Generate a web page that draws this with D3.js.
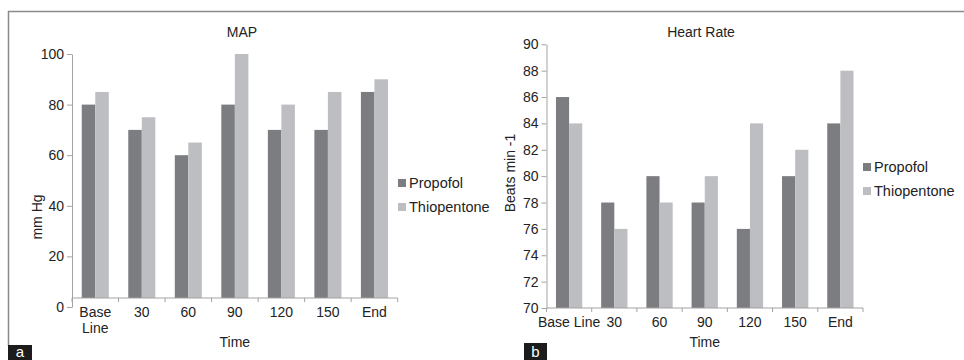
<!DOCTYPE html>
<html>
<head>
<meta charset="utf-8">
<script src="https://cdn.jsdelivr.net/npm/d3@7"></script>
<style>
  body { margin: 0; background: #fff; }
  text { font-family: "Liberation Sans", Arial, sans-serif; fill: #232323; }
  .axis path, .axis line { stroke: #a3a3a3; }
</style>
</head>
<body>
<svg id="fig" width="964" height="360"></svg>
<script>
// data
const timePoints = ['Base Line', '30', '60', '90', '120', '150', 'End'];
const seriesNames = ['Propofol', 'Thiopentone'];
const mapPropofol = [80, 70, 60, 80, 70, 70, 85];
const mapThiopentone = [85, 75, 65, 100, 80, 85, 90];
const hrPropofol = [86, 78, 80, 78, 76, 80, 84];
const hrThiopentone = [84, 76, 78, 80, 84, 82, 88];
const mapTicks = [0, 20, 40, 60, 80, 100];
const hrTicks = [70, 72, 74, 76, 78, 80, 82, 84, 86, 88, 90];

const colors = ['#7c7d81', '#bdbec2'];

class GroupedBars {
  constructor(_config, _data) {
    this.config = _config;
    this.data = _data;
    this.initVis();
  }

  initVis() {
    let vis = this;
    let c = vis.config;

    vis.g = d3.select('#fig').append('g');

    vis.xScale = d3.scaleBand()
      .domain(timePoints)
      .range([c.left, c.right])
      .padding(0);

    vis.xInner = d3.scaleBand()
      .domain(seriesNames)
      .range([0, vis.xScale.bandwidth()])
      .paddingInner(0)
      .paddingOuter(0.72);

    vis.yScale = d3.scaleLinear()
      .domain(c.yDomain)
      .range([c.yBottom, c.yTop]);

    // y axis
    vis.yAxis = d3.axisLeft(vis.yScale)
      .tickValues(c.yTicks)
      .tickSize(5)
      .tickSizeOuter(0)
      .tickPadding(3);
    vis.yAxisG = vis.g.append('g')
      .attr('class', 'axis y-axis')
      .attr('transform', `translate(${c.left},0)`)
      .call(vis.yAxis);
    vis.yAxisG.selectAll('text').style('font-size', '14px').attr('fill', '#232323');

    // bars
    vis.groups = vis.g.selectAll('.grp')
      .data(vis.data)
      .join('g')
      .attr('class', 'grp')
      .attr('transform', d => `translate(${vis.xScale(d.cat)},0)`);

    vis.groups.selectAll('rect')
      .data(d => seriesNames.map((s, i) => ({s: s, v: d.vals[i], i: i})))
      .join('rect')
      .attr('x', d => vis.xInner(d.s))
      .attr('width', vis.xInner.bandwidth())
      .attr('y', d => vis.yScale(d.v))
      .attr('height', d => c.baseline - vis.yScale(d.v))
      .attr('fill', d => colors[d.i]);

    // x axis (labels only, ticks between categories like excel)
    vis.xAxis = d3.axisBottom(vis.xScale).tickSize(0).tickPadding(9);
    vis.xAxisG = vis.g.append('g')
      .attr('class', 'axis x-axis')
      .attr('transform', `translate(0,${c.baseline})`)
      .call(vis.xAxis);
    vis.xAxisG.select('.domain').remove();
    vis.xAxisG.selectAll('text').style('font-size', '14px').attr('fill', '#232323');
    if (c.wrapLabels) {
      vis.xAxisG.selectAll('text').each(function(d) {
        let words = d.split(' ');
        if (words.length < 2) return;
        let t = d3.select(this).text(null);
        words.forEach((w, i) => {
          t.append('tspan').attr('x', 0).attr('dy', i === 0 ? '0.71em' : '1.15em').text(w);
        });
        t.attr('dy', null);
      });
    }
    vis.xAxisG.append('line')
      .attr('x1', c.left).attr('x2', c.right)
      .attr('stroke', '#a3a3a3');
    vis.xAxisG.selectAll('.sep')
      .data(d3.range(timePoints.length + 1))
      .join('line')
      .attr('class', 'sep')
      .attr('x1', i => c.left + i * vis.xScale.step())
      .attr('x2', i => c.left + i * vis.xScale.step())
      .attr('y1', 0).attr('y2', 4)
      .attr('stroke', '#a3a3a3');

    // titles
    vis.g.append('text')
      .attr('x', c.titleX).attr('y', 32).attr('dy', '0.35em')
      .attr('text-anchor', 'middle').style('font-size', '14px')
      .text(c.title);

    vis.g.append('text')
      .attr('x', (c.left + c.right) / 2).attr('y', 342).attr('dy', '0.35em')
      .attr('text-anchor', 'middle').style('font-size', '14px')
      .text('Time');

    vis.g.append('text')
      .attr('transform', `translate(${c.yLabelX},${c.yLabelY}) rotate(-90)`)
      .attr('dy', '0.35em')
      .attr('text-anchor', 'middle').style('font-size', '14px')
      .text(c.yLabel);

    // legend
    let leg = vis.g.selectAll('.leg')
      .data(seriesNames)
      .join('g')
      .attr('class', 'leg')
      .attr('transform', (d, i) => `translate(${c.legendX},${c.legendY + i * 24})`);
    leg.append('rect')
      .attr('x', 0).attr('y', -4).attr('width', 8).attr('height', 8)
      .attr('fill', (d, i) => colors[i]);
    leg.append('text')
      .attr('x', 11).attr('dy', '0.35em')
      .style('font-size', '14.5px')
      .text(d => d);
  }
}

const svg = d3.select('#fig');

// frame
svg.append('line').attr('x1', 8).attr('x2', 964).attr('y1', 11.5).attr('y2', 11.5)
  .attr('stroke', '#8a8a8a').attr('stroke-width', 1.5);
svg.append('line').attr('x1', 8.5).attr('x2', 8.5).attr('y1', 11).attr('y2', 346)
  .attr('stroke', '#8a8a8a').attr('stroke-width', 1.5);

new GroupedBars({
  left: 72, right: 397.7, yTop: 54, yBottom: 307, baseline: 298,
  yDomain: [0, 100], yTicks: mapTicks, wrapLabels: true,
  title: 'MAP', titleX: 242, yLabel: 'mm Hg', yLabelX: 37, yLabelY: 217,
  legendX: 398, legendY: 183
}, timePoints.map((t, i) => ({cat: t, vals: [mapPropofol[i], mapThiopentone[i]]})));

new GroupedBars({
  left: 546.5, right: 863, yTop: 44.3, yBottom: 308, baseline: 308,
  yDomain: [70, 90], yTicks: hrTicks, wrapLabels: false,
  title: 'Heart Rate', titleX: 701, yLabel: 'Beats min -1', yLabelX: 510, yLabelY: 173,
  legendX: 863, legendY: 167
}, timePoints.map((t, i) => ({cat: t, vals: [hrPropofol[i], hrThiopentone[i]]})));

// panel letters
[['a', 8, 345, 24, 15], ['b', 524, 343, 23, 17]].forEach(p => {
  svg.append('rect').attr('x', p[1]).attr('y', p[2]).attr('width', p[3]).attr('height', p[4])
    .attr('fill', '#1c1c1c');
  svg.append('text').attr('x', p[1] + p[3] / 2).attr('y', 356.5)
    .attr('text-anchor', 'middle').style('font-size', '15px').style('fill', '#fff')
    .text(p[0]);
});
</script>
</body>
</html>
